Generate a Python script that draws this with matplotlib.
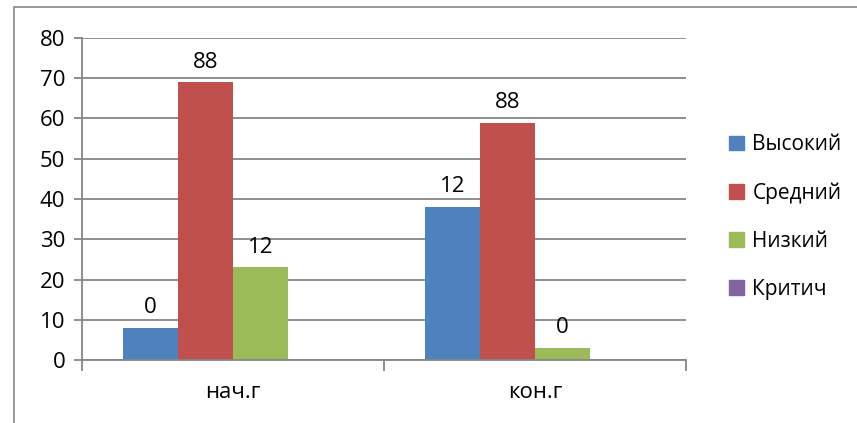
import numpy as np
import matplotlib.pyplot as plt
from matplotlib.patches import Patch, Rectangle

categories = ['нач.г', 'кон.г']
series = ['Высокий', 'Средний', 'Низкий', 'Критич']
heights = [[8, 38],     # Высокий
           [69, 59],    # Средний
           [23, 3],     # Низкий
           [0, 0]]      # Критич
labels = [['0', '12'],
          ['88', '88'],
          ['12', '0'],
          [None, None]]
colors = ['#4F81BD', '#C0504D', '#9BBB59', '#8064A2']
yticks = [0, 10, 20, 30, 40, 50, 60, 70, 80]

plt.rcParams['font.family'] = ['Open Sans', 'DejaVu Sans']
grid_c = '#868686'
fs = 16

fig = plt.figure(figsize=(8.57, 4.23), dpi=100)
ax = fig.add_axes([82/857, 63/423, 604/857, 322/423])

# outer chart border (left + top only visible)
fig.patches.append(Rectangle((14/857, -0.1), 1.2, (416/423)+0.1, transform=fig.transFigure,
                             fill=False, edgecolor=grid_c, lw=1.2))

x = np.arange(len(categories))
w = 55/302
for i, s in enumerate(series):
    pos = x + (i-1.5)*w
    ax.bar(pos, heights[i], w, color=colors[i], zorder=3)
    for p, h, lab in zip(pos, heights[i], labels[i]):
        if lab is None:
            continue
        ax.annotate(lab, (p, h), xytext=(0, 7), textcoords='offset points',
                    ha='center', va='bottom', fontsize=fs)

ax.set_xlim(-0.5, 1.5)
ax.set_ylim(0, 80)
ax.set_yticks(yticks)
ax.yaxis.grid(True, color=grid_c, lw=1.3, zorder=0)
ax.set_xticks([-0.5, 0.5, 1.5], minor=False)
ax.set_xticklabels([])
ax.set_xticks(x, minor=True)
ax.set_xticklabels(categories, minor=True, fontsize=fs)
ax.tick_params(axis='x', which='minor', length=0, pad=16)
ax.tick_params(axis='x', which='major', length=8, width=1.3, color=grid_c)
ax.tick_params(axis='y', length=6, width=1.3, color=grid_c, labelsize=fs, pad=6)

for sp in ['top', 'right']:
    ax.spines[sp].set_visible(False)
for sp in ['left', 'bottom']:
    ax.spines[sp].set_color(grid_c)
    ax.spines[sp].set_linewidth(1.3)
    ax.spines[sp].set_zorder(4)

handles = [Patch(color=c, label=s) for c, s in zip(colors, series)]
fig.legend(handles=handles, loc='center left', bbox_to_anchor=(719/857, 1-217/423),
           frameon=False, fontsize=15, handlelength=0.7, handleheight=0.7,
           handletextpad=0.4, labelspacing=1.3, borderpad=0)

fig.savefig('out.png', dpi=100)
